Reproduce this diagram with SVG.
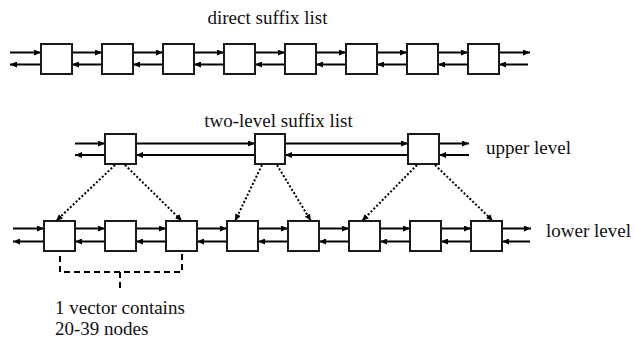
<svg xmlns="http://www.w3.org/2000/svg" width="634" height="339" viewBox="0 0 634 339">
<style>
.box{fill:#fff;stroke:#1a1a1a;stroke-width:2}
.ar{stroke:#000;stroke-width:2;fill:none;marker-end:url(#ah)}
.dot{stroke:#000;stroke-width:2;fill:none;stroke-dasharray:2 2;marker-end:url(#ah)}
.dash{stroke:#000;stroke-width:2;fill:none;stroke-dasharray:6 4}
.lbl{font-family:'Liberation Serif','DejaVu Serif',serif;font-size:19px;fill:#111}
</style>
<defs>
<marker id="ah" markerWidth="7" markerHeight="6" refX="7" refY="3" orient="auto" markerUnits="userSpaceOnUse"><path d="M0,0 L7,3 L0,6 z" fill="#000"/></marker>
</defs>
<rect width="634" height="339" fill="#fff"/>
<g font-family="Liberation Serif, DejaVu Serif, serif" font-size="19">
<text class="lbl" x="267.5" y="23.5" text-anchor="middle">direct suffix list</text>
<text class="lbl" x="278.5" y="127" text-anchor="middle">two-level suffix list</text>
<text class="lbl" x="486" y="154">upper level</text>
<text class="lbl" x="546" y="237">lower level</text>
<text class="lbl" x="55" y="313.5">1 vector contains</text>
<text class="lbl" x="55" y="334.5">20-39 nodes</text>
</g>
<g id="connectors">
<path class="ar" d="M10,52.5H41"/><path class="ar" d="M41,64.5H10"/>
<path class="ar" d="M72,52.5H102"/><path class="ar" d="M102,64.5H72"/>
<path class="ar" d="M133,52.5H163"/><path class="ar" d="M163,64.5H133"/>
<path class="ar" d="M194,52.5H224"/><path class="ar" d="M224,64.5H194"/>
<path class="ar" d="M255,52.5H285"/><path class="ar" d="M285,64.5H255"/>
<path class="ar" d="M316,52.5H346"/><path class="ar" d="M346,64.5H316"/>
<path class="ar" d="M377,52.5H407"/><path class="ar" d="M407,64.5H377"/>
<path class="ar" d="M438,52.5H468"/><path class="ar" d="M468,64.5H438"/>
<path class="ar" d="M499,52.5H530"/><path class="ar" d="M528,64.5H499"/>
<path class="ar" d="M75,143.5H105"/><path class="ar" d="M105,155H75"/>
<path class="ar" d="M136,143.5H255"/><path class="ar" d="M255,155H136"/>
<path class="ar" d="M285,143.5H408"/><path class="ar" d="M408,155H285"/>
<path class="ar" d="M439,143.5H469"/><path class="ar" d="M469,155H439"/>
<path class="ar" d="M13,228.5H44"/><path class="ar" d="M44,241.5H13"/>
<path class="ar" d="M75,228.5H105"/><path class="ar" d="M105,241.5H75"/>
<path class="ar" d="M136,228.5H166"/><path class="ar" d="M166,241.5H136"/>
<path class="ar" d="M197,228.5H227"/><path class="ar" d="M227,241.5H197"/>
<path class="ar" d="M258,228.5H288"/><path class="ar" d="M288,241.5H258"/>
<path class="ar" d="M319,228.5H349"/><path class="ar" d="M349,241.5H319"/>
<path class="ar" d="M380,228.5H410"/><path class="ar" d="M410,241.5H380"/>
<path class="ar" d="M441,228.5H471"/><path class="ar" d="M471,241.5H441"/>
<path class="ar" d="M502,228.5H531"/><path class="ar" d="M530,241.5H502"/>
<path class="dot" d="M115,165L56,221"/>
<path class="dot" d="M125,165L182,221"/>
<path class="dot" d="M262,165L235,221"/>
<path class="dot" d="M277,165L311,221"/>
<path class="dot" d="M417,165L362,221"/>
<path class="dot" d="M435,165L493,221"/>
<path class="dash" d="M60,256V272H182V254"/>
<path class="dash" d="M120,272V292"/>
</g>
<g id="direct-nodes">
<rect id="d1" class="box" x="41" y="44" width="31" height="30"/>
<rect id="d2" class="box" x="102" y="44" width="31" height="30"/>
<rect id="d3" class="box" x="163" y="44" width="31" height="30"/>
<rect id="d4" class="box" x="224" y="44" width="31" height="30"/>
<rect id="d5" class="box" x="285" y="44" width="31" height="30"/>
<rect id="d6" class="box" x="346" y="44" width="31" height="30"/>
<rect id="d7" class="box" x="407" y="44" width="31" height="30"/>
<rect id="d8" class="box" x="468" y="44" width="31" height="30"/>
</g>
<g id="upper-nodes">
<rect id="u1" class="box" x="105" y="134" width="31" height="30"/>
<rect id="u2" class="box" x="255" y="134" width="30" height="30"/>
<rect id="u3" class="box" x="408" y="134" width="31" height="30"/>
</g>
<g id="lower-nodes">
<rect id="l1" class="box" x="44" y="221" width="31" height="30"/>
<rect id="l2" class="box" x="105" y="221" width="31" height="30"/>
<rect id="l3" class="box" x="166" y="221" width="31" height="30"/>
<rect id="l4" class="box" x="227" y="221" width="31" height="30"/>
<rect id="l5" class="box" x="288" y="221" width="31" height="30"/>
<rect id="l6" class="box" x="349" y="221" width="31" height="30"/>
<rect id="l7" class="box" x="410" y="221" width="31" height="30"/>
<rect id="l8" class="box" x="471" y="221" width="31" height="30"/>
</g>
</svg>
